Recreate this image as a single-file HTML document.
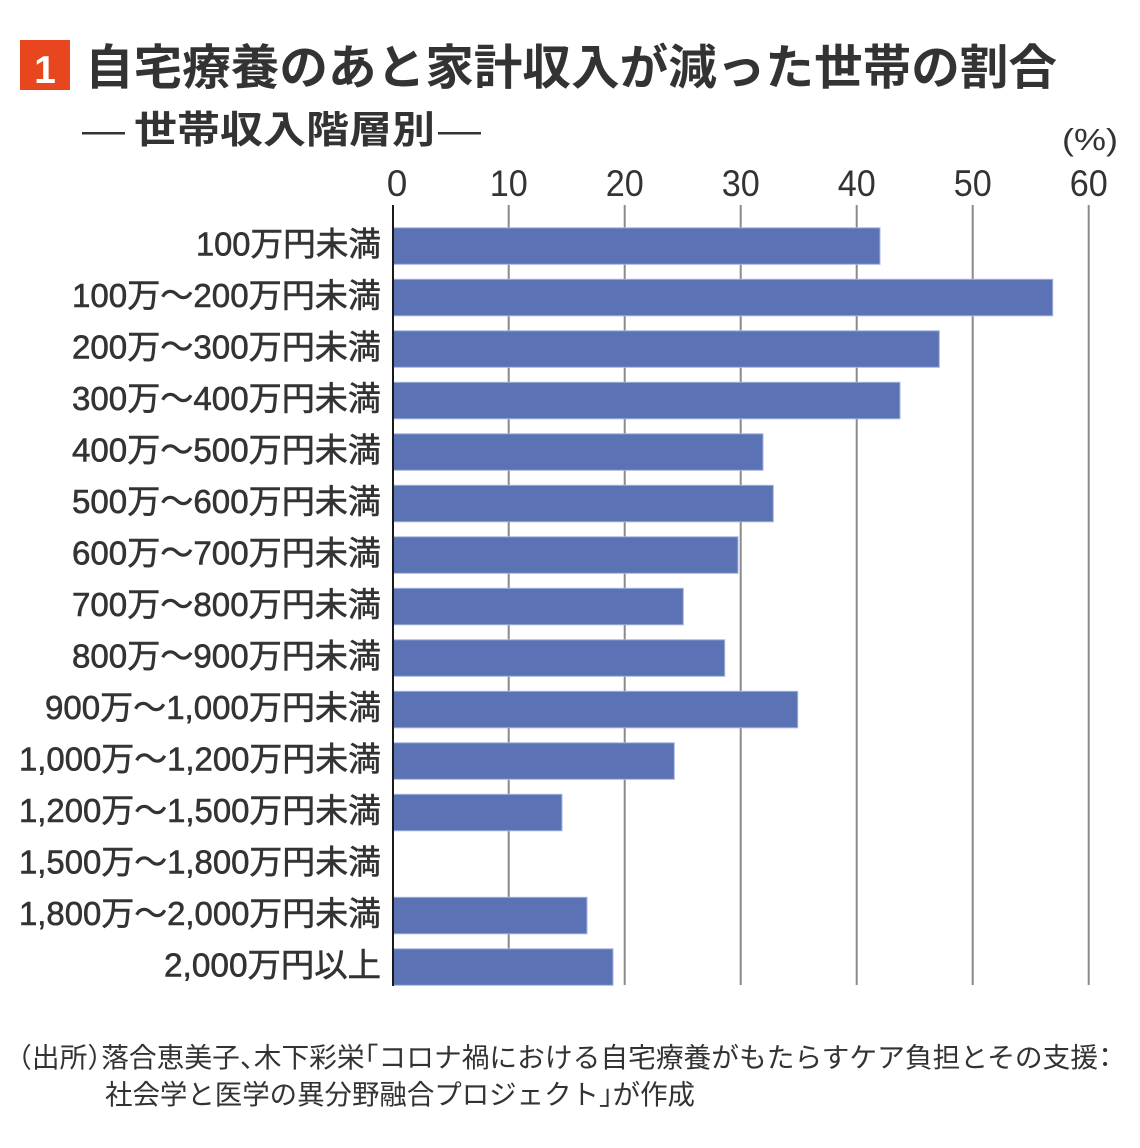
<!DOCTYPE html>
<html lang="ja">
<head>
<meta charset="utf-8">
<style>
  html,body{margin:0;padding:0;background:#ffffff;}
  svg{display:block;}
  .jp{font-family:"Liberation Sans","Noto Sans CJK JP",sans-serif;}
</style>
</head>
<body>
<svg width="1140" height="1148" viewBox="0 0 1140 1148" xmlns="http://www.w3.org/2000/svg">
  <rect x="0" y="0" width="1140" height="1148" fill="#ffffff"/>

  <!-- Title -->
  <rect x="20" y="40" width="50" height="50" fill="#e8461e"/>
  <text x="45" y="83" text-anchor="middle" fill="#ffffff" font-family="Liberation Sans, sans-serif" font-weight="bold" font-size="39">1</text>
  <text class="jp" x="85" y="84" fill="#333333" font-weight="bold" font-size="48" textLength="972" lengthAdjust="spacingAndGlyphs">自宅療養のあと家計収入が減った世帯の割合</text>

  <!-- Subtitle -->
  <text class="jp" x="82" y="143" fill="#333333" font-size="38" textLength="43" lengthAdjust="spacingAndGlyphs">―</text>
  <text class="jp" x="134" y="143" fill="#333333" font-weight="bold" font-size="38" textLength="301" lengthAdjust="spacingAndGlyphs">世帯収入階層別</text>
  <text class="jp" x="438" y="143" fill="#333333" font-size="38" textLength="43" lengthAdjust="spacingAndGlyphs">―</text>

  <!-- Unit -->
  <text x="1062" y="150" fill="#333333" font-family="Liberation Sans, sans-serif" font-size="31" textLength="56" lengthAdjust="spacingAndGlyphs">(%)</text>

  <!-- Tick labels -->
  <g fill="#333333" font-family="Liberation Sans, sans-serif" font-size="37" text-anchor="middle">
    <text x="397" y="196">0</text>
    <text x="508.7" y="196" textLength="38" lengthAdjust="spacingAndGlyphs">10</text>
    <text x="624.7" y="196" textLength="38" lengthAdjust="spacingAndGlyphs">20</text>
    <text x="740.7" y="196" textLength="38" lengthAdjust="spacingAndGlyphs">30</text>
    <text x="856.7" y="196" textLength="38" lengthAdjust="spacingAndGlyphs">40</text>
    <text x="972.7" y="196" textLength="38" lengthAdjust="spacingAndGlyphs">50</text>
    <text x="1088.7" y="196" textLength="38" lengthAdjust="spacingAndGlyphs">60</text>
  </g>

  <!-- Gridlines -->
  <g stroke="#8a8a8a" stroke-width="2">
    <line x1="508.7" y1="205" x2="508.7" y2="985"/>
    <line x1="624.7" y1="205" x2="624.7" y2="985"/>
    <line x1="740.7" y1="205" x2="740.7" y2="985"/>
    <line x1="856.7" y1="205" x2="856.7" y2="985"/>
    <line x1="972.7" y1="205" x2="972.7" y2="985"/>
    <line x1="1088.7" y1="205" x2="1088.7" y2="985"/>
  </g>

  <!-- Bars -->
  <g fill="#5b73b5" stroke="#a3b4de" stroke-width="1">
    <rect x="393.5" y="227.8" width="486.5" height="36.5"/>
    <rect x="393.5" y="279.3" width="659.2" height="36.5"/>
    <rect x="393.5" y="330.8" width="545.8" height="36.5"/>
    <rect x="393.5" y="382.3" width="506.5" height="36.5"/>
    <rect x="393.5" y="433.8" width="369.5" height="36.5"/>
    <rect x="393.5" y="485.3" width="379.8" height="36.5"/>
    <rect x="393.5" y="536.8" width="344.5" height="36.5"/>
    <rect x="393.5" y="588.3" width="289.8" height="36.5"/>
    <rect x="393.5" y="639.8" width="331.2" height="36.5"/>
    <rect x="393.5" y="691.3" width="404.2" height="36.5"/>
    <rect x="393.5" y="742.8" width="280.8" height="36.5"/>
    <rect x="393.5" y="794.3" width="168.5" height="36.5"/>
    <rect x="393.5" y="897.3" width="193.5" height="36.5"/>
    <rect x="393.5" y="948.8" width="219.5" height="36.5"/>
  </g>

  <!-- Axis line -->
  <line x1="393" y1="205" x2="393" y2="986" stroke="#1a1a1a" stroke-width="2"/>

  <!-- Category labels -->
  <g class="jp" fill="#333333" stroke="#333333" stroke-width="0.6" font-size="33" text-anchor="end">
    <text x="381" y="255.3" textLength="185" lengthAdjust="spacingAndGlyphs">100万円未満</text>
    <text x="381" y="306.8" textLength="309" lengthAdjust="spacingAndGlyphs">100万～200万円未満</text>
    <text x="381" y="358.3" textLength="309" lengthAdjust="spacingAndGlyphs">200万～300万円未満</text>
    <text x="381" y="409.8" textLength="309" lengthAdjust="spacingAndGlyphs">300万～400万円未満</text>
    <text x="381" y="461.3" textLength="309" lengthAdjust="spacingAndGlyphs">400万～500万円未満</text>
    <text x="381" y="512.8" textLength="309" lengthAdjust="spacingAndGlyphs">500万～600万円未満</text>
    <text x="381" y="564.3" textLength="309" lengthAdjust="spacingAndGlyphs">600万～700万円未満</text>
    <text x="381" y="615.8" textLength="309" lengthAdjust="spacingAndGlyphs">700万～800万円未満</text>
    <text x="381" y="667.3" textLength="309" lengthAdjust="spacingAndGlyphs">800万～900万円未満</text>
    <text x="381" y="718.8" textLength="336" lengthAdjust="spacingAndGlyphs">900万～1,000万円未満</text>
    <text x="381" y="770.3" textLength="362" lengthAdjust="spacingAndGlyphs">1,000万～1,200万円未満</text>
    <text x="381" y="821.8" textLength="362" lengthAdjust="spacingAndGlyphs">1,200万～1,500万円未満</text>
    <text x="381" y="873.3" textLength="362" lengthAdjust="spacingAndGlyphs">1,500万～1,800万円未満</text>
    <text x="381" y="924.8" textLength="362" lengthAdjust="spacingAndGlyphs">1,800万～2,000万円未満</text>
    <text x="381" y="976.3" textLength="217" lengthAdjust="spacingAndGlyphs">2,000万円以上</text>
  </g>

  <!-- Source -->
  <g class="jp" fill="#333333" font-size="27.5" style="font-feature-settings:'halt';">
    <text x="18" y="1067" textLength="1094" lengthAdjust="spacingAndGlyphs">（出所）落合恵美子、木下彩栄「コロナ禍における自宅療養がもたらすケア負担とその支援：</text>
    <text x="105" y="1104" textLength="590" lengthAdjust="spacingAndGlyphs">社会学と医学の異分野融合プロジェクト」が作成</text>
  </g>
</svg>
</body>
</html>
